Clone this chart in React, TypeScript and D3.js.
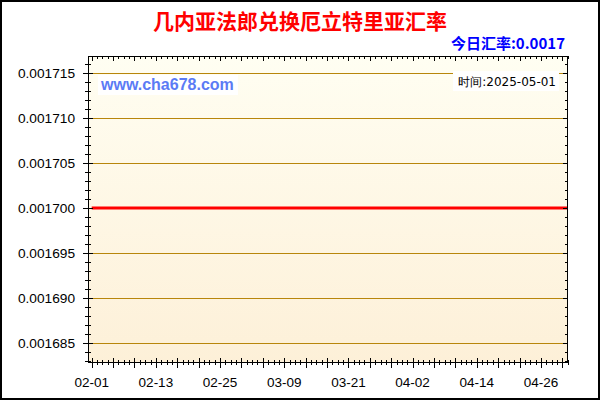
import React from "react";
import * as d3 from "d3";

const title = "几内亚法郎兑换厄立特里亚汇率";
const todayLabel = "今日汇率:0.0017";
const siteLabel = "www.cha678.com";
const timeLabel = "时间:2025-05-01";

const startDate = "2025-02-01";
const endDate = "2025-05-01";

// daily rates 02-01 .. 05-01 (90 days)
const rates = [
  0.0017, 0.0017, 0.0017, 0.0017, 0.0017, 0.0017, 0.0017, 0.0017, 0.0017, 0.0017,
  0.0017, 0.0017, 0.0017, 0.0017, 0.0017, 0.0017, 0.0017, 0.0017, 0.0017, 0.0017,
  0.0017, 0.0017, 0.0017, 0.0017, 0.0017, 0.0017, 0.0017, 0.0017, 0.0017, 0.0017,
  0.0017, 0.0017, 0.0017, 0.0017, 0.0017, 0.0017, 0.0017, 0.0017, 0.0017, 0.0017,
  0.0017, 0.0017, 0.0017, 0.0017, 0.0017, 0.0017, 0.0017, 0.0017, 0.0017, 0.0017,
  0.0017, 0.0017, 0.0017, 0.0017, 0.0017, 0.0017, 0.0017, 0.0017, 0.0017, 0.0017,
  0.0017, 0.0017, 0.0017, 0.0017, 0.0017, 0.0017, 0.0017, 0.0017, 0.0017, 0.0017,
  0.0017, 0.0017, 0.0017, 0.0017, 0.0017, 0.0017, 0.0017, 0.0017, 0.0017, 0.0017,
  0.0017, 0.0017, 0.0017, 0.0017, 0.0017, 0.0017, 0.0017, 0.0017, 0.0017, 0.0017,
];

const yTickValues = [0.001685, 0.00169, 0.001695, 0.0017, 0.001705, 0.00171, 0.001715];
const xTickLabels = ["02-01", "02-13", "02-25", "03-09", "03-21", "04-02", "04-14", "04-26"];
const yDomain = [0.0016829, 0.0017169];

const parse = d3.timeParse("%Y-%m-%d");

export default function App() {
  const W = 600;
  const H = 400;
  const left = 88;
  const right = 568;
  const top = 56;
  const bottom = 362;

  const start = parse(startDate) as Date;
  const end = parse(endDate) as Date;
  const days = d3.timeDay.range(start, d3.timeDay.offset(end, 1));
  const data = days.map((d, i) => ({ date: d, value: rates[i] }));

  const x = d3.scaleTime().domain([start, end]).range([91.7, 567.7]);
  const y = d3.scaleLinear().domain(yDomain).range([bottom, top]);

  const line = d3
    .line<{ date: Date; value: number }>()
    .x((d) => x(d.date))
    .y((d) => y(d.value));

  const yMinor = d3.range(1683, 1717).map((v) => v / 1000000);
  const xDays = days;
  const fmt = d3.timeFormat("%m-%d");
  const labelDates = days.filter((d) => xTickLabels.includes(fmt(d)));

  const font = "Arial, 'Liberation Sans', sans-serif";

  return (
    <div style={{ position: "fixed", left: 0, top: 0 }}>
      <svg width={W} height={H} style={{ display: "block" }}>
        <defs>
          <linearGradient id="bg" x1="0" y1="0" x2="0" y2="1">
            <stop offset="0%" stopColor="#FFFEF2" />
            <stop offset="100%" stopColor="#FDF0D8" />
          </linearGradient>
        </defs>
        <rect x={0} y={0} width={W} height={H} fill="#fff" />
        <rect x={1} y={1} width={W - 2} height={H - 2} fill="none" stroke="#000" strokeWidth={2} />
        <rect x={left} y={top} width={right - left} height={bottom - top} fill="url(#bg)" />

        {yTickValues.map((v) => (
          <line key={"g" + v} x1={left} x2={right} y1={Math.round(y(v)) + 0.5} y2={Math.round(y(v)) + 0.5} stroke="#B8860B" strokeWidth={1} />
        ))}

        {/* label boxes */}
        <rect x={98} y={75} width={140} height={20} fill="#fff" />
        <text x={101} y={90} fontFamily={font} fontSize={16} fontWeight="bold" fill="#5B7BF5">
          {siteLabel}
        </text>
        <rect x={453} y={71} width={106} height={20} fill="#fff" />
        <text x={556} y={86} textAnchor="end" fontFamily="'DejaVu Sans', sans-serif" fontSize={12} fill="#000">
          {timeLabel}
        </text>

        <path d={line(data) || ""} fill="none" stroke="#FF0000" strokeWidth={3} />

        {/* axes frame */}
        <line x1={left + 0.5} x2={left + 0.5} y1={top} y2={bottom + 1} stroke="#000" />
        <line x1={right - 0.5} x2={right - 0.5} y1={top} y2={bottom + 1} stroke="#000" />
        <line x1={left} x2={right} y1={top + 0.5} y2={top + 0.5} stroke="#000" />
        <line x1={left} x2={right} y1={bottom + 0.5} y2={bottom + 0.5} stroke="#000" />

        {/* y ticks */}
        {yMinor.map((v) => {
          const yy = Math.round(y(v)) + 0.5;
          const major = yTickValues.some((t) => Math.abs(t - v) < 1e-9);
          return (
            <g key={"yt" + v}>
              <line x1={major ? left - 5 : left - 3} x2={major ? left + 5 : left + 3} y1={yy} y2={yy} stroke="#000" />
              <line x1={right - (major ? 5 : 3)} x2={right} y1={yy} y2={yy} stroke="#000" />
            </g>
          );
        })}
        {yTickValues.map((v) => (
          <text key={"yl" + v} x={75} y={y(v) + 5} textAnchor="end" fontFamily={font} fontSize={13.7} fill="#000">
            {v.toFixed(6)}
          </text>
        ))}

        {/* x ticks */}
        {xDays.map((d, i) => {
          const xx = Math.round(x(d)) + 0.5;
          const major = i % 4 === 0;
          return (
            <g key={"xt" + i}>
              <line x1={xx} x2={xx} y1={bottom - (major ? 4 : 2)} y2={bottom + (major ? 6 : 3)} stroke="#000" />
              <line x1={xx} x2={xx} y1={top} y2={top + (major ? 5 : 3)} stroke="#000" />
            </g>
          );
        })}
        {labelDates.map((d) => (
          <text key={"xl" + fmt(d)} x={x(d)} y={387} textAnchor="middle" fontFamily={font} fontSize={13.5} fill="#000">
            {fmt(d)}
          </text>
        ))}

        <text x={300} y={29} textAnchor="middle" fontFamily="'Noto Sans CJK SC', sans-serif" fontSize={21} fontWeight="bold" fill="#FF0000">
          {title}
        </text>
        <text x={565} y={49} textAnchor="end" fontFamily="'Noto Sans CJK SC', sans-serif" fontSize={15} fontWeight="bold" fill="#0000FF">
          {todayLabel}
        </text>
      </svg>
    </div>
  );
}
